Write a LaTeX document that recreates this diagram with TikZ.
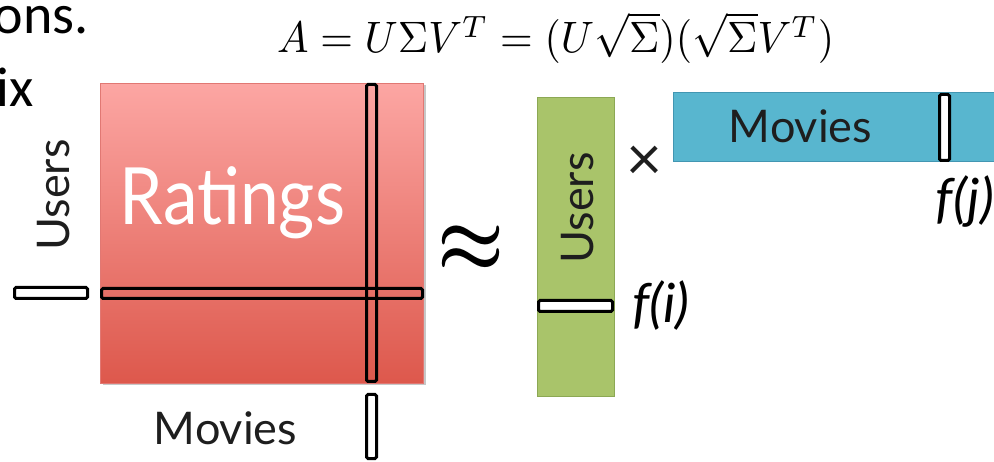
\documentclass[tikz,border=0pt]{standalone}
\usepackage{amsmath}
\usepackage{fontspec}
\newfontfamily\gillfont{Lato}
\newfontfamily\califont{Carlito}
\definecolor{pinktop}{RGB}{252,166,163}
\definecolor{pinkbot}{RGB}{221,88,76}
\definecolor{pinkline}{RGB}{225,120,115}
\definecolor{greenfill}{RGB}{169,196,106}
\definecolor{greenline}{RGB}{140,168,84}
\definecolor{bluefill}{RGB}{88,182,207}
\definecolor{blueline}{RGB}{66,150,178}
\definecolor{labelgray}{RGB}{30,30,30}
\begin{document}
\begin{tikzpicture}[x=1pt,y=-1pt,
  bar/.style={draw=black,line width=3pt,rounded corners=1.5pt},
  whitebar/.style={bar,fill=white},
  lbl/.style={font=\gillfont\fontsize{45}{45}\selectfont,text=labelgray,inner sep=0pt},
  flbl/.style={font=\gillfont\itshape\fontsize{54}{54}\selectfont,text=black,inner sep=0pt},
  slide/.style={font=\califont\fontsize{56}{56}\selectfont,text=black,inner sep=0pt},
]
\useasboundingbox (0,0) rectangle (994,462);

% slide text fragments (cut at the left edge, as in the reference)
\node[slide,anchor=base east] (ons) at (89,34) {ons.};
\node[slide,anchor=base east] (ix) at (34,107) {ix};

% formula
\node[anchor=base west,inner sep=0pt] (eq) at (277,53)
  {\scalebox{4.2}[4.4]{$A = U\Sigma V^T = (U\sqrt{\Sigma})(\sqrt{\Sigma}V^T)$}};

% ratings matrix
\fill[black!22] (102.5,85.5) rectangle (425.5,385.5);
\node[draw=pinkline,line width=0.8pt,top color=pinktop,bottom color=pinkbot,
      minimum width=323,minimum height=300,inner sep=0pt,anchor=north west] (rat) at (100,83) {};
\node[font=\gillfont\fontsize{79}{79}\selectfont,text=white,inner sep=0pt,anchor=base] (ratlbl) at (232.5,225) {\scalebox{0.88}[1]{Ratings}};
\draw[bar] (366.5,84.5) rectangle (376.5,381.5);
\draw[bar] (101.5,288.5) rectangle (422.5,298.5);
\draw[whitebar] (14.5,287.5) rectangle (87.5,298.5);
\draw[whitebar] (366.5,394.5) rectangle (376.5,458.5);
\node[lbl,rotate=90] (usersL) at (53.5,195) {Users};
\node[lbl,anchor=base] (moviesB) at (225.5,445) {Movies};

% approx
\node[inner sep=0pt] (approx) at (471,249) {\scalebox{7.5}[8.5]{\boldmath$\approx$}};

% users factor
\node[draw=greenline,line width=1pt,fill=greenfill,minimum width=77,minimum height=299,
      inner sep=0pt,anchor=north west] (U) at (537,97) {};
\node[lbl,rotate=90] (usersG) at (577.5,208) {Users};
\draw[whitebar] (538.5,300.5) rectangle (612.5,311.5);
\node[flbl] (fi) at (661,306) {f(i)};

% times
\node[lbl,font=\gillfont\fontsize{62}{62}\selectfont] (times) at (644,163) {×};

% movies factor
\fill[bluefill] (673,93) rectangle (994,162);
\draw[blueline,line width=1pt] (994,93) -- (673,93) -- (673,162) -- (994,162);
\node[lbl,anchor=base] (moviesT) at (800.5,143) {Movies};
\draw[whitebar] (939.5,94.5) rectangle (949.5,160.5);
\node[flbl] (fj) at (965,202) {f(j)};
\end{tikzpicture}
\end{document}
